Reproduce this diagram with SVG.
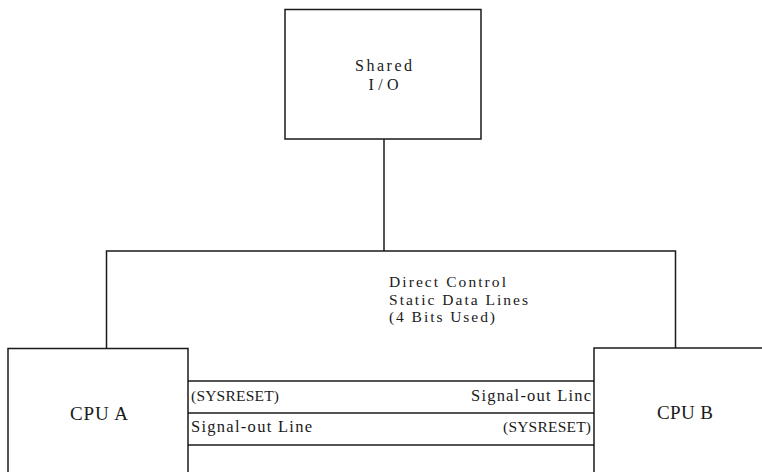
<svg xmlns="http://www.w3.org/2000/svg" width="762" height="472" viewBox="0 0 762 472">
<style>
.b{fill:none;stroke:#1a1a1a;stroke-width:1.5}
.t{font-family:"Liberation Serif","Times New Roman",serif;fill:#1a1a1a}
.s{font-size:15.5px}
.g{font-size:16.5px}
.m{font-size:15.5px}
.l{font-size:16px}
.c{font-size:19px}
</style>
<rect width="762" height="472" fill="#fff"/>
<g id="shared-io">
<rect class="b" x="285" y="9.5" width="196" height="129.5"/>
<text class="t l" x="383.5" y="71" text-anchor="middle" textLength="57" lengthAdjust="spacing">Shared</text>
<text class="t l" x="383.5" y="89.5" text-anchor="middle" textLength="30" lengthAdjust="spacing">I/O</text>
</g>
<g id="direct-control">
<path class="b" d="M106.5,348 V251 H675.5 V348"/>
<text class="t m" x="389" y="287" textLength="117" lengthAdjust="spacing">Direct Control</text>
<text class="t m" x="389" y="304.5" textLength="139" lengthAdjust="spacing">Static Data Lines</text>
<text class="t m" x="389" y="322" textLength="106" lengthAdjust="spacing">(4 Bits Used)</text>
</g>
<g id="cpu-a">
<path class="b" d="M8,473 V348.5 H188 V473"/>
<text class="t c" x="99" y="420" text-anchor="middle" textLength="58" lengthAdjust="spacing">CPU A</text>
</g>
<g id="cpu-b">
<path class="b" d="M594,473 V348 H763"/>
<text class="t c" x="685" y="419" text-anchor="middle" textLength="56" lengthAdjust="spacing">CPU B</text>
</g>
<g id="connectors">
<line class="b" x1="384" y1="139" x2="384" y2="251"/>
<line class="b" x1="188" y1="381" x2="594" y2="381"/>
<line class="b" x1="188" y1="413" x2="594" y2="413"/>
<line class="b" x1="188" y1="445" x2="594" y2="445"/>
<text class="t s" x="191" y="401" textLength="88" lengthAdjust="spacing">(SYSRESET)</text>
<text class="t g" x="191" y="432" textLength="121" lengthAdjust="spacing">Signal-out Line</text>
<text class="t g" x="591" y="401" text-anchor="end" textLength="120" lengthAdjust="spacing">Signal-out Linc</text>
<text class="t s" x="591" y="432" text-anchor="end" textLength="88" lengthAdjust="spacing">(SYSRESET)</text>
</g>
</svg>
